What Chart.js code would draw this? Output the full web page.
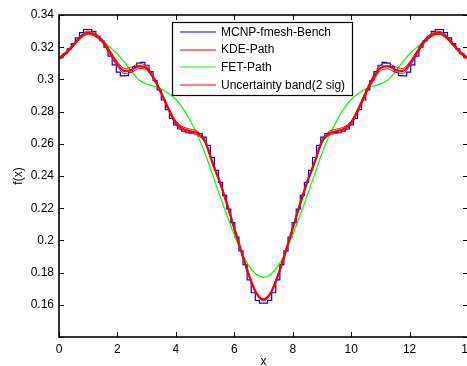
<!DOCTYPE html>
<html>
<head>
<meta charset="utf-8">
<script src="https://cdn.jsdelivr.net/npm/chart.js@4.4.1/dist/chart.umd.min.js"></script>
<style>
html,body{margin:0;padding:0;background:#fff;overflow:hidden;width:467px;height:366px;}
canvas{display:block;}
</style>
</head>
<body>
<canvas id="c" width="480" height="366"></canvas>
<script>
// ---- data ----
const xTicks = [0, 2, 4, 6, 8, 10, 12, 14];
const yTicks = [0.14, 0.16, 0.18, 0.2, 0.22, 0.24, 0.26, 0.28, 0.3, 0.32, 0.34];

const xs = [0,0.25,0.5,0.75,1,1.25,1.5,1.75,2,2.25,2.5,2.75,3,3.25,3.5,3.75,4,4.25,4.5,4.75,5,5.25,5.5,5.75,6,6.25,6.5,6.75,7,
  7.25,7.5,7.75,8,8.25,8.5,8.75,9,9.25,9.5,9.75,10,10.25,10.5,10.75,11,11.25,11.5,11.75,12,12.25,12.5,12.75,13,13.25,13.5,13.75,14];

const kdePath = [0.3130,0.3165,0.3215,0.3265,0.3290,0.3275,0.3235,0.3165,0.3095,0.3052,0.3062,0.3083,0.3070,0.3005,0.2915,0.2815,0.2730,0.2692,0.2678,0.2665,0.2615,0.2485,0.2365,0.2225,0.2075,0.1925,0.1785,0.1675,0.1632,
  0.1675,0.1785,0.1925,0.2075,0.2225,0.2365,0.2485,0.2615,0.2665,0.2678,0.2692,0.2730,0.2815,0.2915,0.3005,0.3070,0.3083,0.3062,0.3052,0.3095,0.3165,0.3235,0.3275,0.3290,0.3265,0.3215,0.3165,0.3130];

const fetPath = [0.3130,0.3170,0.3215,0.3262,0.3285,0.3268,0.3238,0.3200,0.3158,0.3105,0.3045,0.2995,0.2972,0.2958,0.2942,0.2913,0.2875,0.2818,0.2740,0.2650,0.2540,0.2410,0.2280,0.2155,0.2035,0.1925,0.1842,0.1790,0.1770,
  0.1790,0.1842,0.1925,0.2035,0.2155,0.2280,0.2410,0.2540,0.2650,0.2740,0.2818,0.2875,0.2913,0.2942,0.2958,0.2972,0.2995,0.3045,0.3105,0.3158,0.3200,0.3238,0.3268,0.3285,0.3262,0.3215,0.3170,0.3130];

const bandHalfWidth = [0.0008,0.0008,0.0009,0.0010,0.0010,0.0010,0.0011,0.0013,0.0015,0.0016,0.0016,0.0015,0.0012,0.0009,0.0008,0.0010,0.0012,0.0013,0.0013,0.0012,0.0010,0.0008,0.0008,0.0008,0.0008,0.0008,0.0007,0.0007,0.0006,
  0.0007,0.0007,0.0008,0.0008,0.0008,0.0008,0.0008,0.0010,0.0012,0.0013,0.0013,0.0012,0.0011,0.0012,0.0015,0.0017,0.0018,0.0017,0.0015,0.0013,0.0012,0.0011,0.0010,0.0010,0.0010,0.0009,0.0008,0.0008];

// MCNP histogram: 100 bins of width 0.14 starting at 0
const mcnpBinStart = 0;
const mcnpBinWidth = 0.14;
const mcnpBench = [0.3135,0.3160,0.3190,0.3222,0.3258,0.3290,0.3310,0.3310,0.3298,0.3268,
  0.3240,0.3200,0.3145,0.3090,0.3045,0.3022,0.3024,0.3045,0.3080,0.3102,
  0.3106,0.3088,0.3048,0.2992,0.2935,0.2872,0.2812,0.2758,0.2718,0.2692,
  0.2678,0.2670,0.2668,0.2670,0.2664,0.2642,0.2590,0.2515,0.2435,0.2360,
  0.2280,0.2195,0.2110,0.2020,0.1935,0.1850,0.1755,0.1675,0.1628,0.1610,
  0.1610,0.1628,0.1675,0.1755,0.1850,0.1935,0.2020,0.2110,0.2195,0.2280,
  0.2360,0.2435,0.2515,0.2590,0.2642,0.2664,0.2670,0.2668,0.2670,0.2678,
  0.2692,0.2718,0.2758,0.2812,0.2872,0.2935,0.2992,0.3048,0.3088,0.3106,
  0.3102,0.3080,0.3045,0.3024,0.3022,0.3045,0.3090,0.3145,0.3200,0.3240,
  0.3268,0.3298,0.3310,0.3310,0.3290,0.3258,0.3222,0.3190,0.3160,0.3135];

const seriesLabels = ['MCNP-fmesh-Bench', 'KDE-Path', 'FET-Path', 'Uncertainty band(2 sig)'];

// ---- build datasets ----
const mcnpPts = mcnpBench.map((v, i) => ({x: mcnpBinStart + i * mcnpBinWidth, y: v}));
mcnpPts.push({x: mcnpBinStart + mcnpBench.length * mcnpBinWidth, y: mcnpBench[mcnpBench.length - 1]});
const pts = arr => arr.map((v, i) => ({x: xs[i], y: v}));
const upper = kdePath.map((v, i) => v + bandHalfWidth[i]);
const lower = kdePath.map((v, i) => v - bandHalfWidth[i]);

const FONT = '"Liberation Sans", Arial, Helvetica, sans-serif';

const boxPlugin = {
  id: 'matlabBox',
  afterDraw(chart) {
    const ctx = chart.ctx;
    const a = chart.chartArea;
    const xs_ = chart.scales.x, ys_ = chart.scales.y;
    ctx.save();
    ctx.strokeStyle = '#000';
    ctx.lineWidth = 1;
    ctx.beginPath();
    xTicks.forEach(t => {
      const p = Math.round(xs_.getPixelForValue(t)) + 0.5;
      ctx.moveTo(p, a.bottom); ctx.lineTo(p, a.bottom - 5);
      ctx.moveTo(p, a.top); ctx.lineTo(p, a.top + 5);
    });
    yTicks.forEach(t => {
      const p = Math.round(ys_.getPixelForValue(t)) + 0.5;
      ctx.moveTo(a.left, p); ctx.lineTo(a.left + 5, p);
      ctx.moveTo(a.right, p); ctx.lineTo(a.right - 5, p);
    });
    ctx.stroke();
    ctx.lineWidth = 1.6;
    ctx.strokeRect(a.left, a.top, a.right - a.left, a.bottom - a.top);

    // legend
    const L = 172.5, T = 22.5, R = 352.5, B = 95.5;
    ctx.fillStyle = '#fff';
    ctx.fillRect(L, T, R - L, B - T);
    ctx.lineWidth = 1.2;
    ctx.strokeStyle = '#000';
    ctx.strokeRect(L, T, R - L, B - T);
    const rows = [32, 49.5, 67, 85];
    const cols = ['#0000ff', '#ff0000', '#00ff00', '#ff0000'];
    ctx.font = '12px ' + FONT;
    ctx.textBaseline = 'middle';
    ctx.textAlign = 'left';
    seriesLabels.forEach((lab, i) => {
      ctx.strokeStyle = cols[i];
      ctx.lineWidth = 1;
      ctx.beginPath();
      ctx.moveTo(180, Math.round(rows[i])); ctx.lineTo(216, Math.round(rows[i]));
      ctx.stroke();
      ctx.fillStyle = '#000';
      ctx.fillText(lab, 221, rows[i] + 0.5);
    });
    ctx.restore();
  }
};

new Chart(document.getElementById('c'), {
  type: 'line',
  data: {
    datasets: [
      {label: seriesLabels[1], data: pts(kdePath), borderColor: '#ff0000', borderWidth: 2.2, order: 1, cubicInterpolationMode: 'monotone'},
      {label: seriesLabels[3], data: pts(upper), borderColor: '#ff0000', borderWidth: 1, order: 2, cubicInterpolationMode: 'monotone'},
      {label: seriesLabels[3] + ' (lower)', data: pts(lower), borderColor: '#ff0000', borderWidth: 1, order: 2, cubicInterpolationMode: 'monotone'},
      {label: seriesLabels[2], data: pts(fetPath), borderColor: '#00ff00', borderWidth: 1.2, order: 3, cubicInterpolationMode: 'monotone'},
      {label: seriesLabels[0], data: mcnpPts, borderColor: '#0000ff', borderWidth: 1.2, order: 4, stepped: true}
    ]
  },
  options: {
    responsive: false,
    animation: false,
    events: [],
    elements: {point: {radius: 0}, line: {fill: false}},
    layout: {padding: {top: 15, right: 12, left: 0, bottom: 0}},
    plugins: {legend: {display: false}, tooltip: {enabled: false}},
    scales: {
      x: {
        type: 'linear', min: 0, max: 14,
        afterBuildTicks: s => { s.ticks = xTicks.map(v => ({value: v})); },
        afterFit: s => { s.height = 29; },
        grid: {display: false, drawTicks: false},
        border: {display: false},
        ticks: {autoSkip: false, maxRotation: 0, padding: 5, color: '#000', font: {family: FONT, size: 12},
          callback: v => String(v)},
        title: {display: true, text: 'x', color: '#000', font: {family: FONT, size: 12}, padding: {top: 0, bottom: -3}}
      },
      y: {
        type: 'linear', min: 0.14, max: 0.34,
        afterBuildTicks: s => { s.ticks = yTicks.map(v => ({value: v})); },
        afterFit: s => { s.width = 59; },
        grid: {display: false, drawTicks: false},
        border: {display: false},
        ticks: {autoSkip: false, padding: 5, color: '#000', font: {family: FONT, size: 12},
          callback: v => (Math.abs(v - 0.14) < 1e-9 ? '' : String(parseFloat(v.toFixed(2))))},
        title: {display: true, text: 'f(x)', color: '#000', font: {family: FONT, size: 12}, padding: {top: 11, bottom: 0}}
      }
    }
  },
  plugins: [boxPlugin]
});
</script>
</body>
</html>
